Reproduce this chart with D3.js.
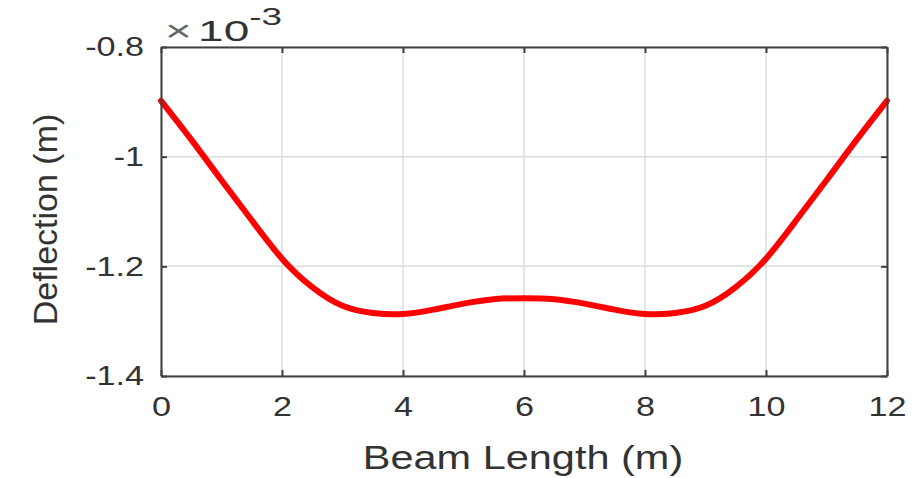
<!DOCTYPE html>
<html>
<head>
<meta charset="utf-8">
<script src="https://cdn.jsdelivr.net/npm/d3@7"></script>
<style>
  html, body { margin: 0; padding: 0; background: #fff; }
  svg { display: block; font-family: "Liberation Sans", Arial, sans-serif; }
</style>
</head>
<body>
<svg id="chart" width="922" height="478"></svg>
<script>
// Beam length positions (m)
const beamX = [0, 0.5, 1, 1.5, 2, 2.5, 3, 3.5, 4, 4.5, 5, 5.5, 6, 6.5, 7, 7.5, 8, 8.5, 9, 9.5, 10, 10.5, 11, 11.5, 12];
// Deflection values (x 1e-3 m)
const deflection = [-0.898, -0.969, -1.043, -1.116, -1.186, -1.238, -1.272, -1.285, -1.287, -1.279, -1.268, -1.260, -1.258,
                    -1.260, -1.268, -1.279, -1.287, -1.285, -1.272, -1.238, -1.186, -1.116, -1.043, -0.969, -0.898];
const xTicks = [0, 2, 4, 6, 8, 10, 12];
const yTicks = [-0.8, -1, -1.2, -1.4];
const xLabel = "Beam Length (m)";
const yLabel = "Deflection (m)";

const svg = d3.select("#chart");
const L = 161, R = 887, T = 47, B = 376;
const x = d3.scaleLinear().domain([0, 12]).range([L, R]);
const y = d3.scaleLinear().domain([-1.4, -0.8]).range([B, T]);
const axisColor = "#333333";
const stretch = 1.22;

// grid
svg.append("g").selectAll("line.gx").data(xTicks).join("line")
  .attr("x1", d => x(d)).attr("x2", d => x(d)).attr("y1", T).attr("y2", B)
  .attr("stroke", "#dcdcdc").attr("stroke-width", 1.5);
svg.append("g").selectAll("line.gy").data(yTicks).join("line")
  .attr("x1", L).attr("x2", R).attr("y1", d => y(d)).attr("y2", d => y(d))
  .attr("stroke", "#dcdcdc").attr("stroke-width", 1.5);

// curve
const line = d3.line().x((d, i) => x(beamX[i])).y(d => y(d)).curve(d3.curveNatural);
svg.append("path").datum(deflection).attr("d", line)
  .attr("fill", "none").attr("stroke", "#ff0000").attr("stroke-width", 6)
  .attr("stroke-linejoin", "round").attr("stroke-linecap", "round");

// axes (inward ticks, box)
function styleAxis(g) {
  g.select(".domain").attr("stroke", "#404040").attr("stroke-width", 2);
  g.selectAll(".tick line").attr("stroke", "#404040").attr("stroke-width", 2);
}
const fmtX = d3.format("d");
const fmtY = d => String(d);

const gx = svg.append("g").attr("transform", `translate(0,${B})`)
  .call(d3.axisBottom(x).tickValues(xTicks).tickFormat(fmtX).tickSize(-6).tickSizeOuter(0).tickPadding(20));
styleAxis(gx);
gx.selectAll("text").attr("font-size", 28).attr("fill", axisColor).attr("font-family", "Liberation Sans, Arial, sans-serif");

const gxTop = svg.append("g").attr("transform", `translate(0,${T})`)
  .call(d3.axisTop(x).tickValues(xTicks).tickFormat("").tickSize(-6).tickSizeOuter(0));
styleAxis(gxTop);

const gy = svg.append("g").attr("transform", `translate(${L},0)`)
  .call(d3.axisLeft(y).tickValues(yTicks).tickFormat(fmtY).tickSize(-6).tickSizeOuter(0).tickPadding(17));
styleAxis(gy);
gy.selectAll("text").attr("font-size", 28).attr("fill", axisColor).attr("font-family", "Liberation Sans, Arial, sans-serif");

const gyR = svg.append("g").attr("transform", `translate(${R},0)`)
  .call(d3.axisRight(y).tickValues(yTicks).tickFormat("").tickSize(-6).tickSizeOuter(0));
styleAxis(gyR);

// stretch tick labels horizontally
svg.selectAll(".tick text").each(function() {
  const len = this.getComputedTextLength();
  if (len > 0) d3.select(this).attr("textLength", len * stretch).attr("lengthAdjust", "spacingAndGlyphs");
});

// x label
const xl = svg.append("text").attr("x", (L + R) / 2 - 1).attr("y", 469)
  .attr("text-anchor", "middle").attr("font-size", 34).attr("fill", axisColor).text(xLabel);
xl.attr("textLength", xl.node().getComputedTextLength() * stretch).attr("lengthAdjust", "spacingAndGlyphs");

// y label
svg.append("text").attr("transform", `translate(57,${(T + B) / 2 + 8}) rotate(-90)`)
  .attr("text-anchor", "middle").attr("font-size", 34).attr("fill", axisColor).text(yLabel);

// exponent
const ex = svg.append("text").attr("x", 165).attr("y", 41).attr("fill", axisColor).attr("font-size", 30);
ex.append("tspan").text("\u00d7").attr("fill", "#666");
ex.append("tspan").attr("dx", 4).text("10");
ex.append("tspan").attr("dy", -16).attr("font-size", 24).text("-3");
ex.attr("textLength", 117).attr("lengthAdjust", "spacingAndGlyphs");
</script>
</body>
</html>
